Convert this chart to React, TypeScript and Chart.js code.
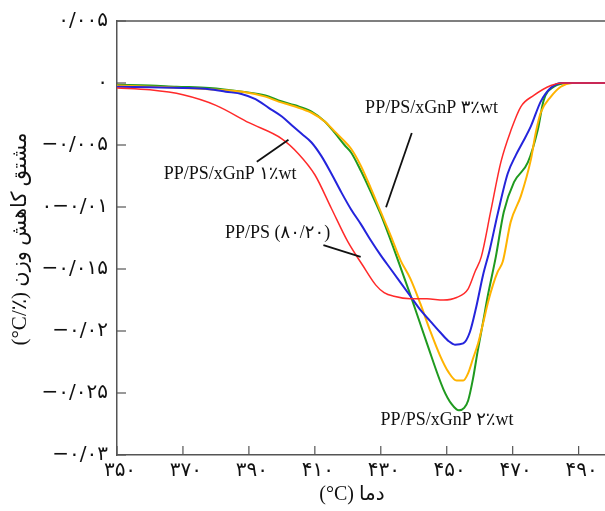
import React, { useEffect, useRef } from "react";
import { Chart, registerables } from "chart.js";
Chart.register(...registerables);

// PP/PS (80/20)
const ppPsTemp = [350, 360, 370, 380, 390, 400, 405, 410, 415, 420, 424.5, 428.5, 431, 434, 439, 444, 449, 453, 456.5, 458.6, 460.5, 463.3, 466.4, 469.5, 472.5, 476.4, 481.6, 485, 490, 498];
const ppPsDtg = [-0.0004, -0.00055, -0.00095, -0.0018, -0.0032, -0.0045, -0.0057, -0.0074, -0.0101, -0.0128, -0.0147, -0.0163, -0.0169, -0.0172, -0.0174, -0.0174, -0.0175, -0.0173, -0.0166, -0.0152, -0.014, -0.0104, -0.0064, -0.0038, -0.0019, -0.001, -0.0002, 0, 0, 0];

// PP/PS/xGnP 1 wt%
const gnp1Temp = [350, 360, 370, 378, 383, 388, 392, 396, 400, 403, 406, 409, 412, 415, 418, 421, 424, 427, 430, 433, 436, 439, 442, 445, 448, 450.5, 452.5, 455, 457, 459, 461, 463, 465.5, 468.5, 471, 473, 475.5, 478.5, 481.5, 485, 498];
const gnp1Dtg = [-0.0003, -0.00035, -0.0004, -0.0005, -0.0007, -0.0009, -0.0013, -0.002, -0.0027, -0.0034, -0.0041, -0.0048, -0.0059, -0.0073, -0.0088, -0.0102, -0.0114, -0.0127, -0.0139, -0.015, -0.0161, -0.0172, -0.0183, -0.0192, -0.0201, -0.0208, -0.0211, -0.021, -0.0201, -0.018, -0.0155, -0.0135, -0.0105, -0.0073, -0.0058, -0.0048, -0.0035, -0.0015, -0.0004, 0, 0];

// PP/PS/xGnP 2 wt%
const gnp2Temp = [350, 360, 368, 378, 388, 395, 399, 404, 409, 413, 416, 419, 421, 424, 427, 430, 434, 439, 444, 449, 451.5, 453.7, 455.3, 456.5, 458, 459.4, 461, 462.5, 464.9, 467.3, 470.4, 474.6, 477.6, 479.4, 482.5, 487, 498];
const gnp2Dtg = [-0.00015, -0.0002, -0.0003, -0.0004, -0.0007, -0.001, -0.0014, -0.0018, -0.0023, -0.0031, -0.004, -0.005, -0.0056, -0.0071, -0.0088, -0.0106, -0.0134, -0.0171, -0.021, -0.0247, -0.0259, -0.0264, -0.0262, -0.0256, -0.0238, -0.0216, -0.0193, -0.0171, -0.014, -0.0104, -0.008, -0.0064, -0.0038, -0.0014, -0.0003, 0, 0];

// PP/PS/xGnP 3 wt%
const gnp3Temp = [350, 360, 370, 378, 388, 395, 399, 404, 409, 413, 416, 419, 421, 424, 427, 430, 433, 436, 439, 442, 445, 448, 450.5, 453, 455, 456.5, 458, 459.5, 461, 462.5, 464, 465.5, 467, 469.4, 472.5, 475.5, 477, 478.5, 481.6, 484.6, 488, 498];
const gnp3Dtg = [-0.0002, -0.0003, -0.0004, -0.0005, -0.0007, -0.0011, -0.0015, -0.0019, -0.0024, -0.0031, -0.0039, -0.0047, -0.0053, -0.0067, -0.0085, -0.0104, -0.0123, -0.0143, -0.0158, -0.0178, -0.02, -0.022, -0.0233, -0.024, -0.024, -0.0234, -0.0222, -0.021, -0.0194, -0.0177, -0.0163, -0.0152, -0.0144, -0.0112, -0.0091, -0.0062, -0.004, -0.0024, -0.0011, -0.0003, 0, 0];

const xTickValues = [350, 370, 390, 410, 430, 450, 470, 490];
const xTickLabels = ["۳۵۰", "۳۷۰", "۳۹۰", "۴۱۰", "۴۳۰", "۴۵۰", "۴۷۰", "۴۹۰"];
const yTickValues = [0.005, 0, -0.005, -0.01, -0.015, -0.02, -0.025, -0.03];
const yTickLabels = ["۰/۰۰۵", "۰", "−۰/۰۰۵", "۰−۰/۰۱", "−۰/۰۱۵", "−۰/۰۲", "−۰/۰۲۵", "−۰/۰۳"];

const xTitle = "(°C) دما";
const yTitle = "(°C/٪) مشتق کاهش وزن";

const annotationTexts = ["PP/PS/xGnP ۳٪wt", "PP/PS/xGnP ۱٪wt", "PP/PS (۸۰/۲۰)", "PP/PS/xGnP ۲٪wt"];
const annotationAt = [
  [445.4, -0.00203],
  [384.3, -0.00739],
  [398.7, -0.0121],
  [450.1, -0.0272],
];
const leaderLines = [
  [439.4, -0.00403, 431.6, -0.01002],
  [392.4, -0.00635, 402.0, -0.00457],
  [412.6, -0.01308, 423.9, -0.01402],
];

const SERIF = "'Liberation Serif', 'DejaVu Sans', serif";
const TICKFONT = "'DejaVu Sans', sans-serif";

export default function App() {
  const ref = useRef<HTMLCanvasElement>(null);
  useEffect(() => {
    const canvas = ref.current!;
    const mk = (label: string, temps: number[], vals: number[], color: string, width: number) => ({
      label,
      data: temps.map((t, i) => ({ x: t, y: vals[i] })),
      borderColor: color,
      backgroundColor: color,
      borderWidth: width,
      pointRadius: 0,
      fill: false,
      tension: 0.4,
      cubicInterpolationMode: "monotone" as const,
    });
    const overlay = {
      id: "overlay",
      afterDraw(chart: any) {
        const { ctx, chartArea: ca, scales } = chart;
        const x = scales.x;
        const y = scales.y;
        ctx.save();
        ctx.strokeStyle = "#555";
        ctx.lineWidth = 1.5;
        ctx.beginPath();
        ctx.moveTo(ca.left, ca.top);
        ctx.lineTo(ca.right, ca.top);
        ctx.stroke();
        ctx.lineWidth = 1.2;
        yTickValues.forEach((v) => {
          const py = y.getPixelForValue(v);
          ctx.beginPath();
          ctx.moveTo(ca.left, py);
          ctx.lineTo(ca.left + 9, py);
          ctx.stroke();
        });
        xTickValues.forEach((v) => {
          const px = x.getPixelForValue(v);
          ctx.beginPath();
          ctx.moveTo(px, ca.bottom);
          ctx.lineTo(px, ca.bottom - 9);
          ctx.stroke();
        });
        // leader lines
        ctx.strokeStyle = "#111";
        ctx.lineWidth = 1.8;
        leaderLines.forEach((l) => {
          ctx.beginPath();
          ctx.moveTo(x.getPixelForValue(l[0]), y.getPixelForValue(l[1]));
          ctx.lineTo(x.getPixelForValue(l[2]), y.getPixelForValue(l[3]));
          ctx.stroke();
        });
        // annotation texts
        ctx.fillStyle = "#111";
        ctx.font = `18px ${SERIF}`;
        ctx.textAlign = "center";
        ctx.textBaseline = "middle";
        annotationTexts.forEach((t, i) => {
          ctx.fillText(t, x.getPixelForValue(annotationAt[i][0]), y.getPixelForValue(annotationAt[i][1]));
        });
        // axis titles
        ctx.font = `20px ${SERIF}`;
        ctx.fillText(xTitle, 352, 495);
        ctx.font = `21px ${SERIF}`;
        ctx.translate(20, 239);
        ctx.rotate(-Math.PI / 2);
        ctx.fillText(yTitle, 0, 0);
        ctx.restore();
      },
    };
    const chart = new Chart(canvas, {
      type: "line",
      data: {
        datasets: [
          mk("PP/PS (80/20)", ppPsTemp, ppPsDtg, "#ff2a2a", 1.5),
          mk("PP/PS/xGnP 1wt%", gnp1Temp, gnp1Dtg, "#2424dc", 2),
          mk("PP/PS/xGnP 3wt%", gnp3Temp, gnp3Dtg, "#ffb300", 2),
          mk("PP/PS/xGnP 2wt%", gnp2Temp, gnp2Dtg, "#1f9a1f", 2),
        ],
      },
      options: {
        animation: false,
        responsive: false,
        devicePixelRatio: 1,
        layout: { padding: { top: 17, right: 0, bottom: 0, left: 0 } },
        plugins: { legend: { display: false }, tooltip: { enabled: false } },
        scales: {
          x: {
            type: "linear",
            min: 350,
            max: 498,
            afterBuildTicks: (s: any) => {
              s.ticks = xTickValues.map((v) => ({ value: v }));
            },
            afterFit: (s: any) => {
              s.height = 56;
            },
            grid: { display: false, drawTicks: false, tickLength: 0 },
            border: { display: true, color: "#555", width: 1.5 },
            ticks: {
              padding: 4,
              labelOffset: 3,
              color: "#111",
              font: { family: TICKFONT, size: 20 },
              maxRotation: 0,
              autoSkip: false,
              callback: (v: any) => {
                const i = xTickValues.indexOf(Number(v));
                return i >= 0 ? xTickLabels[i] : "";
              },
            },
          },
          y: {
            type: "linear",
            min: -0.03,
            max: 0.005,
            afterBuildTicks: (s: any) => {
              s.ticks = yTickValues.map((v) => ({ value: v }));
            },
            afterFit: (s: any) => {
              s.width = 117;
            },
            grid: { display: false, drawTicks: false, tickLength: 0 },
            border: { display: true, color: "#555", width: 1.5 },
            ticks: {
              padding: 9,
              color: "#111",
              font: { family: TICKFONT, size: 20 },
              autoSkip: false,
              callback: (v: any) => {
                const i = yTickValues.findIndex((t) => Math.abs(t - Number(v)) < 1e-9);
                return i >= 0 ? yTickLabels[i] : "";
              },
            },
          },
        },
      },
      plugins: [overlay],
    } as any);
    return () => chart.destroy();
  }, []);
  return (
    <div style={{ position: "fixed", left: 0, top: 0, width: 605, height: 511, background: "#fff" }}>
      <canvas ref={ref} width={605} height={511} style={{ width: 605, height: 511, display: "block" }} />
    </div>
  );
}
